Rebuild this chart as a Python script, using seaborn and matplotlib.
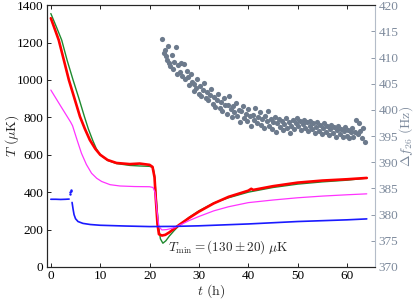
import matplotlib
matplotlib.use("Agg")
import matplotlib.pyplot as plt
import seaborn as sns
import pandas as pd

# --- datos ---
t_red = [0, 0.8, 1.6, 2.6, 3.65, 4.8, 5.9, 6.9, 7.9, 9.0, 10.0, 11.5, 13.3, 16.0, 18.0, 20.0,
         20.6, 21.0, 21.3, 21.6, 21.9, 22.5, 23.2, 24.0, 25.0, 26.0, 28.0, 30.0, 33.0, 36.0,
         40.0, 40.6, 41.0, 45.0, 50.0, 55.0, 60.0, 64.0]
T_red = [1330, 1272, 1213, 1110, 1000, 900, 804, 738, 679, 632, 600, 572, 556, 550, 553, 546,
         535, 480, 350, 230, 175, 168, 172, 185, 205, 225, 262, 296, 340, 375,
         408, 418, 412, 432, 451, 462, 469, 476]

t_green = [0, 1.1, 2.2, 3.3, 4.5, 5.7, 6.8, 7.6, 8.45, 9.2, 10.0, 11.5, 13.3, 16.0, 18.0, 20.0,
           20.7, 21.0, 21.4, 21.8, 22.2, 22.7, 23.3, 24.0, 25.0, 26.0, 28.0, 30.0, 33.0, 36.0,
           40.0, 45.0, 50.0, 55.0, 60.0, 64.0]
T_green = [1355, 1285, 1213, 1105, 1000, 900, 804, 738, 679, 633, 600, 570, 553, 543, 540, 538,
           532, 490, 350, 220, 150, 127, 140, 165, 195, 222, 265, 300, 342, 370,
           400, 425, 443, 455, 464, 475]

t_mag = [0, 2.0, 4.0, 4.4, 5.3, 6.2, 7.2, 8.25, 9.3, 10.3, 12.0, 14.0, 17.0, 20.0, 20.7, 21.1,
         21.5, 21.9, 22.5, 23.5, 25.0, 26.0, 28.0, 30.0, 33.0, 36.0, 40.0, 45.0, 50.0, 55.0,
         60.0, 64.0]
T_mag = [946, 860, 775, 755, 680, 608, 548, 501, 474, 457, 440, 433, 430, 429, 425, 400,
         300, 215, 198, 200, 210, 222, 248, 270, 300, 322, 344, 358, 370, 379, 386, 391]

t_blue_a = [0, 1.0, 2.0, 3.0, 3.7]
T_blue_a = [362, 362, 361, 362, 363]
t_blue_pico = [3.85, 3.95, 4.0, 4.05]
T_blue_pico = [392, 400, 406, 411]
t_blue_b = [4.3, 4.5, 4.7, 5.0, 5.5, 6.5, 8.0, 10.0, 15.0, 20.0, 25.0, 30.0, 40.0, 50.0, 60.0, 64.0]
T_blue_b = [345, 310, 280, 258, 243, 233, 227, 223, 219, 216, 217, 220, 230, 243, 252, 257]

t_f = [22.6, 22.9, 23.1, 23.3, 23.5, 23.8, 24.0, 24.2, 24.5, 24.8, 25.0, 25.3, 25.5, 25.8,
       26.1, 26.4, 26.6, 26.9, 27.2, 27.5, 27.8, 28.0, 28.3, 28.6, 28.9, 29.1, 29.4, 29.7,
       30.0, 30.3, 30.5, 30.8, 31.1, 31.4, 31.6, 31.9, 32.2, 32.5, 32.8, 33.0, 33.3, 33.6,
       33.9, 34.2, 34.4, 34.7, 35.0, 35.3, 35.6, 35.8, 36.1, 36.4, 36.7, 37.0, 37.2, 37.5,
       37.8, 38.1, 38.4, 38.6, 38.9, 39.2, 39.5, 39.8, 40.0, 40.3, 40.6, 40.9, 41.2, 41.4,
       41.7, 42.0, 42.3, 42.6, 42.8, 43.1, 43.4, 43.7, 44.0, 44.2, 44.5, 44.8, 45.1, 45.4,
       45.6, 45.9, 46.2, 46.5, 46.8, 47.0, 47.3, 47.6, 47.9, 48.2, 48.4, 48.7, 49.0, 49.3,
       49.6, 49.8, 50.1, 50.4, 50.7, 51.0, 51.2, 51.5, 51.8, 52.1, 52.4, 52.6, 52.9, 53.2,
       53.5, 53.8, 54.0, 54.3, 54.6, 54.9, 55.2, 55.4, 55.7, 56.0, 56.3, 56.6, 56.8, 57.1,
       57.4, 57.7, 58.0, 58.2, 58.5, 58.8, 59.1, 59.4, 59.6, 59.9, 60.2, 60.5, 60.8, 61.0,
       61.3, 61.6, 61.9, 62.2, 62.4, 62.7, 63.0, 63.3, 63.6]
df_f = [413.5, 410.8, 411.5, 410.2, 409.5, 412.2, 409.0, 408.3, 410.5, 407.8, 409.2, 412.0,
        406.9, 408.5, 407.2, 409.0, 406.5, 408.8, 405.8, 407.5, 406.2, 404.8, 406.8, 405.3,
        403.6, 405.0, 404.2, 405.8, 403.0, 404.5, 402.6, 403.8, 405.2, 402.3, 403.5, 401.8,
        402.9, 404.0, 401.2, 402.5, 400.6, 401.9, 403.1, 400.4, 401.5, 399.8, 402.2, 400.9,
        399.2, 401.0, 402.6, 400.1, 398.6, 400.7, 399.5, 401.3, 398.9, 400.0, 397.6, 399.7,
        400.8, 398.4, 399.3, 397.9, 400.2, 398.8, 396.9, 399.0, 398.1, 400.4, 397.5, 398.7,
        399.6, 397.2, 398.3, 396.6, 398.9, 397.8, 399.8, 397.0, 398.2, 396.3, 397.6, 398.6,
        395.7, 397.4, 398.3, 396.8, 397.9, 396.2, 397.3, 398.4, 396.6, 397.7, 395.6, 397.0,
        398.1, 396.4, 397.5, 398.5, 396.9, 397.8, 396.1, 397.3, 398.0, 396.5, 397.6, 395.9,
        397.0, 397.9, 396.3, 397.4, 395.5, 396.8, 397.6, 396.0, 397.1, 395.3, 396.5, 397.4,
        395.8, 396.9, 395.2, 396.4, 397.2, 395.6, 396.7, 394.9, 396.1, 397.0, 395.4, 396.3,
        394.8, 395.9, 396.8, 395.1, 396.2, 394.6, 395.7, 396.5, 394.9, 395.8, 398.0, 395.3,
        397.4, 396.0, 394.7, 396.6, 393.9]

x_ticks = [0, 10, 20, 30, 40, 50, 60]
y_ticks = [0, 200, 400, 600, 800, 1000, 1200, 1400]
y2_ticks = [370, 375, 380, 385, 390, 395, 400, 405, 410, 415, 420]

GRIS = "#7d8a9c"
GRIS_PUNTOS = "#6c7a8c"

sns.set_theme(style="ticks")
plt.rcParams["font.family"] = ["Liberation Serif", "DejaVu Serif"]
plt.rcParams["mathtext.fontset"] = "cm"
plt.rcParams["xtick.direction"] = "in"
plt.rcParams["ytick.direction"] = "in"
plt.rcParams["axes.linewidth"] = 0.8

fig = plt.figure(figsize=(4.15, 3.02), dpi=100)
ax = fig.add_axes([0.113, 0.116, 0.791, 0.867])
ax2 = ax.twinx()

sns.lineplot(x=t_green, y=T_green, ax=ax, color="#1f8a2e", linewidth=1.0, sort=False)
sns.lineplot(x=t_red, y=T_red, ax=ax, color="#ff0000", linewidth=1.9, sort=False)
sns.lineplot(x=t_mag, y=T_mag, ax=ax, color="#ff33ff", linewidth=0.9, sort=False)
sns.lineplot(x=t_blue_a, y=T_blue_a, ax=ax, color="#1a1aff", linewidth=1.2, sort=False)
sns.scatterplot(x=t_blue_pico, y=T_blue_pico, ax=ax, color="#1a1aff", s=3, linewidth=0)
sns.lineplot(x=t_blue_b, y=T_blue_b, ax=ax, color="#1a1aff", linewidth=1.2, sort=False)

sns.scatterplot(x=t_f, y=df_f, ax=ax2, color=GRIS_PUNTOS, s=14, linewidth=0)

ax.set_xlim(-0.8, 65.7)
ax.set_ylim(0, 1400)
ax2.set_ylim(370, 420)
ax.set_xticks(x_ticks)
ax.set_yticks(y_ticks)
ax2.set_yticks(y2_ticks)

ax.tick_params(axis="both", labelsize=9.5, length=3, width=0.6, top=True, colors="black", pad=2.5)
ax2.tick_params(axis="y", labelsize=9.5, length=3, width=0.6, colors=GRIS, pad=2.5)
ax2.spines["right"].set_color("#b4bcc8")
ax.spines["right"].set_visible(False)

ax.set_xlabel(r"$t\ (\mathrm{h})$", fontsize=10, labelpad=0)
ax.set_ylabel(r"$T\ (\mu\mathrm{K})$", fontsize=10)
ax2.set_ylabel(r"$\Delta f_{26}\ (\mathrm{Hz})$", fontsize=10, color=GRIS)
ax.yaxis.set_label_coords(-0.08, 0.5)
ax2.yaxis.set_label_coords(1.068, 0.5)

ax.text(23.7, 108, r"$T_{\min} = (130 \pm 20)\ \mu\mathrm{K}$", fontsize=9.5, va="center")

fig.savefig("out.png", dpi=100)
